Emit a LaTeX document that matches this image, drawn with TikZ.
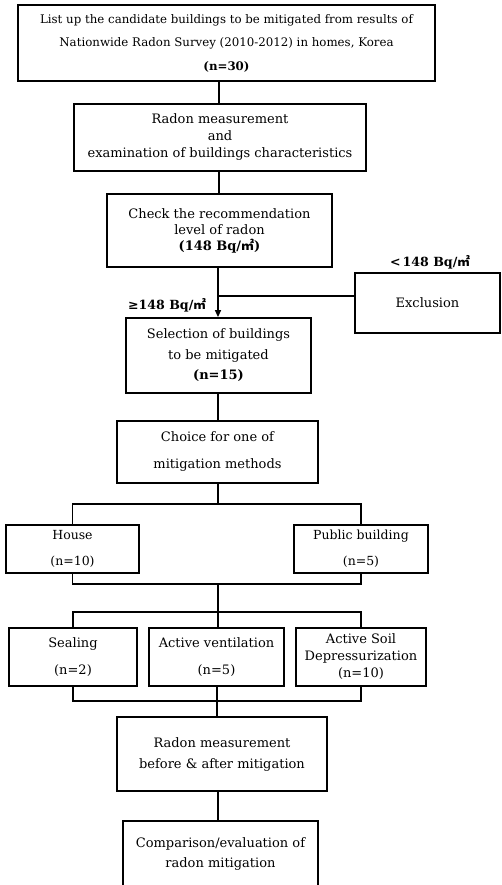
\documentclass[tikz,border=0pt]{standalone}
\usepackage{fontspec}
\setmainfont{DejaVu Serif}
\newfontfamily\cjk{Noto Sans CJK KR}
\usetikzlibrary{arrows.meta}
\newcommand{\sqm}{{\cjk ㎡}}
\tikzset{
  box/.style={draw, line width=1.8pt, inner sep=0pt, align=center, fill=white},
  conn/.style={line width=1.4pt},
  lab/.style={inner sep=0pt, font=\fontsize{12.6}{14}\selectfont\bfseries},
}
\begin{document}
\begin{tikzpicture}[x=1pt,y=-1pt]
\useasboundingbox (0,0) rectangle (502,885);
\clip (0,0) rectangle (502,885);
\fill[white] (0,0) rectangle (502,885);

\node[box, minimum width=417pt, minimum height=76pt, font=\fontsize{11.8}{23.5}\selectfont] (b1) at (226.5,43)
  {List up the candidate buildings to be mitigated from results of\\Nationwide Radon Survey (2010-2012) in homes, Korea\\\textbf{(n=30)}};
\node[box, minimum width=292pt, minimum height=67pt, font=\fontsize{13}{17}\selectfont] (b2) at (220,137.5)
  {Radon measurement\\and\\examination of buildings characteristics};
\node[box, minimum width=225pt, minimum height=73pt, font=\fontsize{13}{16}\selectfont] (b3) at (219.5,230.5)
  {Check the recommendation\\level of radon\\\textbf{(148 Bq/\sqm)}};
\node[box, minimum width=145pt, minimum height=60pt, font=\fontsize{13}{16}\selectfont] (excl) at (427.5,303)
  {Exclusion};
\node[box, minimum width=185pt, minimum height=75pt, font=\fontsize{13}{20.5}\selectfont] (sel) at (218.5,355.5)
  {Selection of buildings\\to be mitigated\\\textbf{(n=15)}};
\node[box, minimum width=201pt, minimum height=62pt, font=\fontsize{13}{27}\selectfont] (cho) at (217.5,452)
  {Choice for one of\\mitigation methods};
\node[box, minimum width=133pt, minimum height=48pt, font=\fontsize{12.5}{26}\selectfont] (house) at (72.5,549)
  {House\\(n=10)};
\node[box, minimum width=134pt, minimum height=48pt, font=\fontsize{12.5}{26}\selectfont] (pub) at (361,549)
  {Public building\\(n=5)};
\node[box, minimum width=128pt, minimum height=58pt, font=\fontsize{13}{27}\selectfont] (seal) at (73,657)
  {Sealing\\(n=2)};
\node[box, minimum width=135pt, minimum height=58pt, font=\fontsize{13}{27}\selectfont] (vent) at (216.5,657)
  {Active ventilation\\(n=5)};
\node[box, minimum width=130pt, minimum height=58pt, font=\fontsize{13}{17}\selectfont] (soil) at (361,657)
  {Active Soil\\Depressurization\\(n=10)};
\node[box, minimum width=210pt, minimum height=74pt, font=\fontsize{13}{21}\selectfont] (meas) at (222,754)
  {Radon measurement\\before \& after mitigation};
\node[box, minimum width=195pt, minimum height=66pt, font=\fontsize{13}{20}\selectfont] (comp) at (220.5,854)
  {Comparison/evaluation of\\radon mitigation};

\node[lab] (lt) at (430,262) {<\,148 Bq/\sqm};
\node[lab] (ge) at (167,305) {≥148 Bq/\sqm};

% connectors
\coordinate (x1) at (219,0);
\draw[conn] (b1.south -| x1) -- (b2.north -| x1);
\draw[conn] (b2.south -| x1) -- (b3.north -| x1);
\coordinate (x2) at (218,0);
\draw[conn, -{Triangle[length=7pt,width=6pt]}] (b3.south -| x2) -- (sel.north -| x2);
\coordinate (ej) at (218,296);
\draw[conn] (excl.west |- ej) -- (ej);
\draw[conn] (sel.south -| x2) -- (cho.north -| x2);
\coordinate (br) at (218,504);
\draw[line width=2.6pt] (cho.south -| x2) -- (br);
\draw[conn] (house.north) |- (br) -| (pub.north);
\coordinate (m1) at (218,584);
\coordinate (s1) at (218,612);
\draw[conn] (house.south) |- (m1) -| (pub.south);
\draw[conn] (m1) -- (s1);
\draw[conn] (seal.north) |- (s1) -| (soil.north);
\draw[conn] (s1) -- (vent.north -| s1);
\coordinate (m2) at (217,701);
\draw[conn] (seal.south) |- (m2) -| (soil.south);
\draw[conn] (vent.south -| m2) -- (meas.north -| m2);
\coordinate (x3) at (218,0);
\draw[conn] (meas.south -| x3) -- (comp.north -| x3);
\end{tikzpicture}
\end{document}
